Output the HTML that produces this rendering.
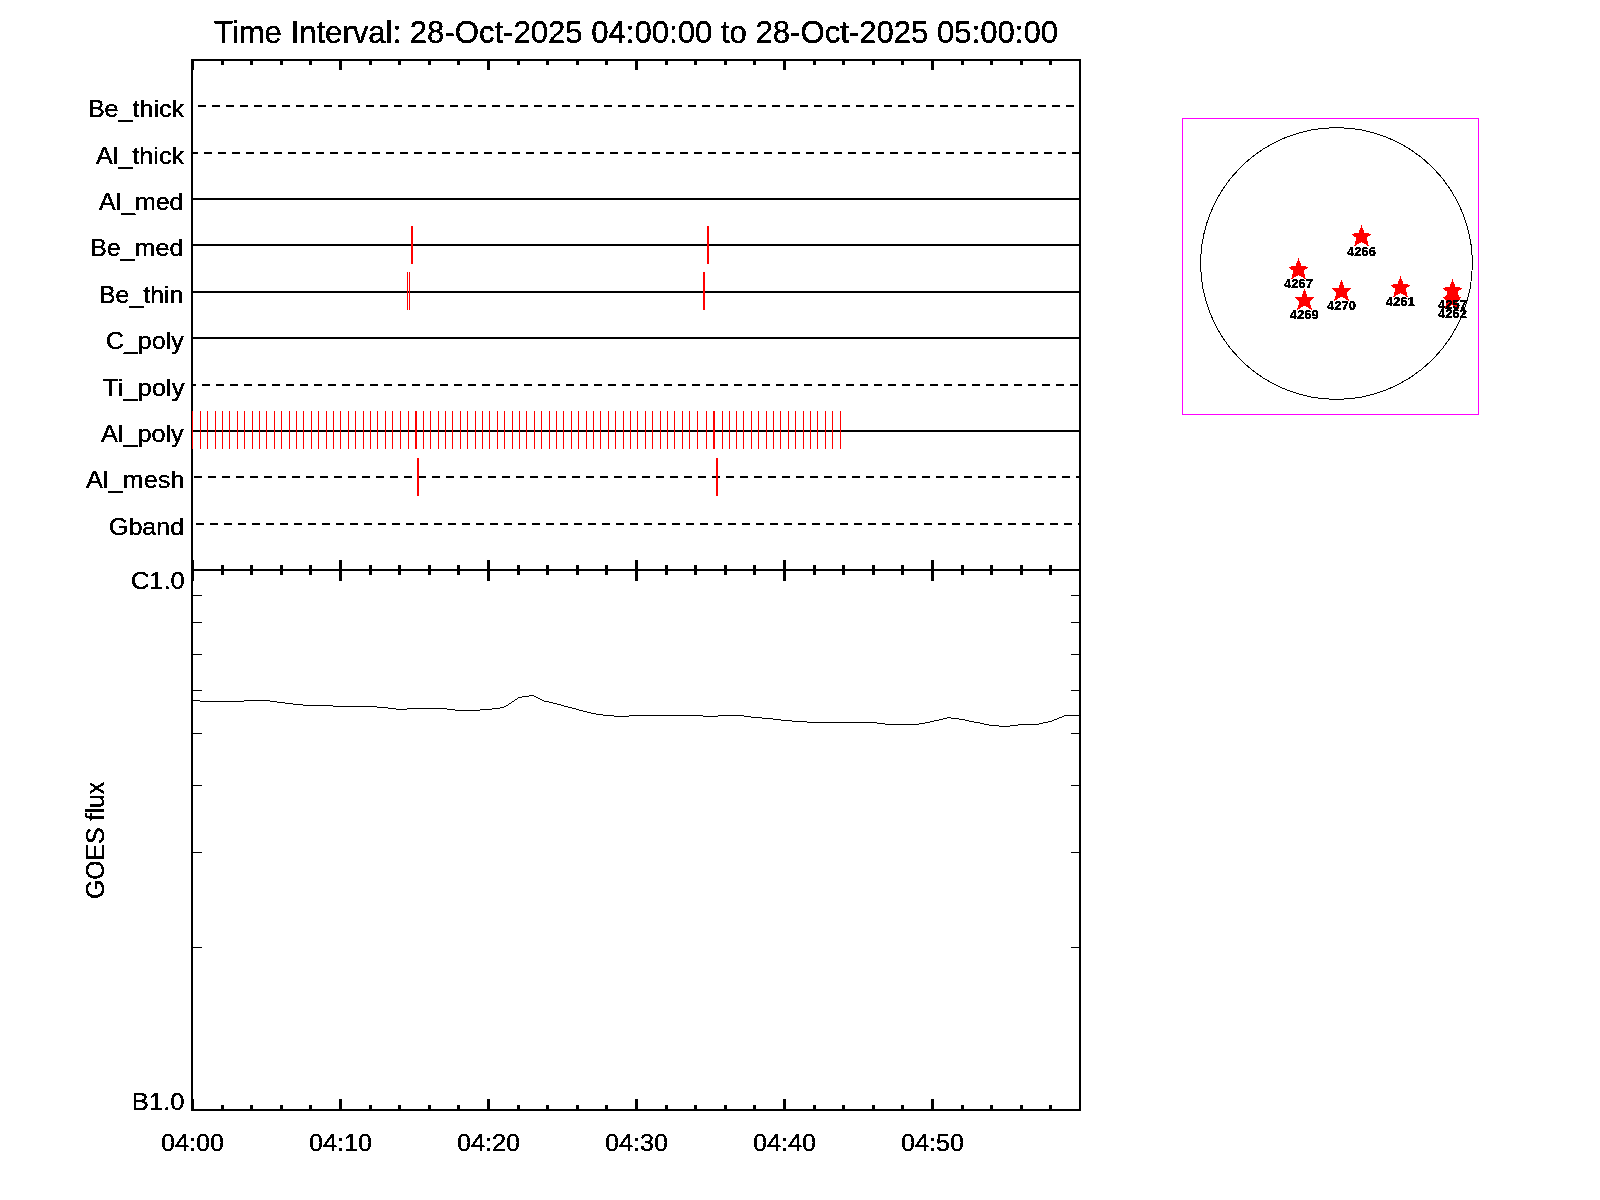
<!DOCTYPE html>
<html><head><meta charset="utf-8"><title>Time Interval</title>
<style>
html,body{margin:0;padding:0;background:#fff;width:1600px;height:1200px;overflow:hidden}
svg{display:block}
text{font-family:"Liberation Sans",sans-serif;fill:#000}
</style></head><body>
<svg width="1600" height="1200" viewBox="0 0 1600 1200">
<defs><filter id="crisp" x="0" y="0" width="1600" height="1200" filterUnits="userSpaceOnUse" color-interpolation-filters="sRGB"><feComponentTransfer><feFuncA type="discrete" tableValues="0 1 1 1"/></feComponentTransfer></filter></defs>
<rect x="0" y="0" width="1600" height="1200" fill="#fff"/>
<g shape-rendering="crispEdges">
<rect x="191" y="59" width="890" height="2" fill="#000"/>
<rect x="191" y="569" width="890" height="2" fill="#000"/>
<rect x="191" y="1109" width="890" height="2" fill="#000"/>
<rect x="191" y="59" width="2" height="1052" fill="#000"/>
<rect x="1079" y="59" width="2" height="1052" fill="#000"/>
<rect x="191" y="61" width="3" height="9" fill="#000"/>
<rect x="191" y="560" width="3" height="9" fill="#000"/>
<rect x="191" y="571" width="3" height="10" fill="#000"/>
<rect x="191" y="1099" width="3" height="10" fill="#000"/>
<rect x="221" y="61" width="3" height="4" fill="#000"/>
<rect x="221" y="565" width="3" height="4" fill="#000"/>
<rect x="221" y="571" width="3" height="4" fill="#000"/>
<rect x="221" y="1105" width="3" height="4" fill="#000"/>
<rect x="250" y="61" width="3" height="4" fill="#000"/>
<rect x="250" y="565" width="3" height="4" fill="#000"/>
<rect x="250" y="571" width="3" height="4" fill="#000"/>
<rect x="250" y="1105" width="3" height="4" fill="#000"/>
<rect x="280" y="61" width="3" height="4" fill="#000"/>
<rect x="280" y="565" width="3" height="4" fill="#000"/>
<rect x="280" y="571" width="3" height="4" fill="#000"/>
<rect x="280" y="1105" width="3" height="4" fill="#000"/>
<rect x="309" y="61" width="3" height="4" fill="#000"/>
<rect x="309" y="565" width="3" height="4" fill="#000"/>
<rect x="309" y="571" width="3" height="4" fill="#000"/>
<rect x="309" y="1105" width="3" height="4" fill="#000"/>
<rect x="339" y="61" width="3" height="9" fill="#000"/>
<rect x="339" y="560" width="3" height="9" fill="#000"/>
<rect x="339" y="571" width="3" height="10" fill="#000"/>
<rect x="339" y="1099" width="3" height="10" fill="#000"/>
<rect x="369" y="61" width="3" height="4" fill="#000"/>
<rect x="369" y="565" width="3" height="4" fill="#000"/>
<rect x="369" y="571" width="3" height="4" fill="#000"/>
<rect x="369" y="1105" width="3" height="4" fill="#000"/>
<rect x="398" y="61" width="3" height="4" fill="#000"/>
<rect x="398" y="565" width="3" height="4" fill="#000"/>
<rect x="398" y="571" width="3" height="4" fill="#000"/>
<rect x="398" y="1105" width="3" height="4" fill="#000"/>
<rect x="428" y="61" width="3" height="4" fill="#000"/>
<rect x="428" y="565" width="3" height="4" fill="#000"/>
<rect x="428" y="571" width="3" height="4" fill="#000"/>
<rect x="428" y="1105" width="3" height="4" fill="#000"/>
<rect x="457" y="61" width="3" height="4" fill="#000"/>
<rect x="457" y="565" width="3" height="4" fill="#000"/>
<rect x="457" y="571" width="3" height="4" fill="#000"/>
<rect x="457" y="1105" width="3" height="4" fill="#000"/>
<rect x="487" y="61" width="3" height="9" fill="#000"/>
<rect x="487" y="560" width="3" height="9" fill="#000"/>
<rect x="487" y="571" width="3" height="10" fill="#000"/>
<rect x="487" y="1099" width="3" height="10" fill="#000"/>
<rect x="517" y="61" width="3" height="4" fill="#000"/>
<rect x="517" y="565" width="3" height="4" fill="#000"/>
<rect x="517" y="571" width="3" height="4" fill="#000"/>
<rect x="517" y="1105" width="3" height="4" fill="#000"/>
<rect x="546" y="61" width="3" height="4" fill="#000"/>
<rect x="546" y="565" width="3" height="4" fill="#000"/>
<rect x="546" y="571" width="3" height="4" fill="#000"/>
<rect x="546" y="1105" width="3" height="4" fill="#000"/>
<rect x="576" y="61" width="3" height="4" fill="#000"/>
<rect x="576" y="565" width="3" height="4" fill="#000"/>
<rect x="576" y="571" width="3" height="4" fill="#000"/>
<rect x="576" y="1105" width="3" height="4" fill="#000"/>
<rect x="605" y="61" width="3" height="4" fill="#000"/>
<rect x="605" y="565" width="3" height="4" fill="#000"/>
<rect x="605" y="571" width="3" height="4" fill="#000"/>
<rect x="605" y="1105" width="3" height="4" fill="#000"/>
<rect x="635" y="61" width="3" height="9" fill="#000"/>
<rect x="635" y="560" width="3" height="9" fill="#000"/>
<rect x="635" y="571" width="3" height="10" fill="#000"/>
<rect x="635" y="1099" width="3" height="10" fill="#000"/>
<rect x="665" y="61" width="3" height="4" fill="#000"/>
<rect x="665" y="565" width="3" height="4" fill="#000"/>
<rect x="665" y="571" width="3" height="4" fill="#000"/>
<rect x="665" y="1105" width="3" height="4" fill="#000"/>
<rect x="694" y="61" width="3" height="4" fill="#000"/>
<rect x="694" y="565" width="3" height="4" fill="#000"/>
<rect x="694" y="571" width="3" height="4" fill="#000"/>
<rect x="694" y="1105" width="3" height="4" fill="#000"/>
<rect x="724" y="61" width="3" height="4" fill="#000"/>
<rect x="724" y="565" width="3" height="4" fill="#000"/>
<rect x="724" y="571" width="3" height="4" fill="#000"/>
<rect x="724" y="1105" width="3" height="4" fill="#000"/>
<rect x="753" y="61" width="3" height="4" fill="#000"/>
<rect x="753" y="565" width="3" height="4" fill="#000"/>
<rect x="753" y="571" width="3" height="4" fill="#000"/>
<rect x="753" y="1105" width="3" height="4" fill="#000"/>
<rect x="783" y="61" width="3" height="9" fill="#000"/>
<rect x="783" y="560" width="3" height="9" fill="#000"/>
<rect x="783" y="571" width="3" height="10" fill="#000"/>
<rect x="783" y="1099" width="3" height="10" fill="#000"/>
<rect x="813" y="61" width="3" height="4" fill="#000"/>
<rect x="813" y="565" width="3" height="4" fill="#000"/>
<rect x="813" y="571" width="3" height="4" fill="#000"/>
<rect x="813" y="1105" width="3" height="4" fill="#000"/>
<rect x="842" y="61" width="3" height="4" fill="#000"/>
<rect x="842" y="565" width="3" height="4" fill="#000"/>
<rect x="842" y="571" width="3" height="4" fill="#000"/>
<rect x="842" y="1105" width="3" height="4" fill="#000"/>
<rect x="872" y="61" width="3" height="4" fill="#000"/>
<rect x="872" y="565" width="3" height="4" fill="#000"/>
<rect x="872" y="571" width="3" height="4" fill="#000"/>
<rect x="872" y="1105" width="3" height="4" fill="#000"/>
<rect x="901" y="61" width="3" height="4" fill="#000"/>
<rect x="901" y="565" width="3" height="4" fill="#000"/>
<rect x="901" y="571" width="3" height="4" fill="#000"/>
<rect x="901" y="1105" width="3" height="4" fill="#000"/>
<rect x="931" y="61" width="3" height="9" fill="#000"/>
<rect x="931" y="560" width="3" height="9" fill="#000"/>
<rect x="931" y="571" width="3" height="10" fill="#000"/>
<rect x="931" y="1099" width="3" height="10" fill="#000"/>
<rect x="961" y="61" width="3" height="4" fill="#000"/>
<rect x="961" y="565" width="3" height="4" fill="#000"/>
<rect x="961" y="571" width="3" height="4" fill="#000"/>
<rect x="961" y="1105" width="3" height="4" fill="#000"/>
<rect x="990" y="61" width="3" height="4" fill="#000"/>
<rect x="990" y="565" width="3" height="4" fill="#000"/>
<rect x="990" y="571" width="3" height="4" fill="#000"/>
<rect x="990" y="1105" width="3" height="4" fill="#000"/>
<rect x="1020" y="61" width="3" height="4" fill="#000"/>
<rect x="1020" y="565" width="3" height="4" fill="#000"/>
<rect x="1020" y="571" width="3" height="4" fill="#000"/>
<rect x="1020" y="1105" width="3" height="4" fill="#000"/>
<rect x="1049" y="61" width="3" height="4" fill="#000"/>
<rect x="1049" y="565" width="3" height="4" fill="#000"/>
<rect x="1049" y="571" width="3" height="4" fill="#000"/>
<rect x="1049" y="1105" width="3" height="4" fill="#000"/>
<rect x="193" y="947" width="9" height="1" fill="#000"/>
<rect x="1071" y="947" width="8" height="1" fill="#000"/>
<rect x="193" y="852" width="9" height="1" fill="#000"/>
<rect x="1071" y="852" width="8" height="1" fill="#000"/>
<rect x="193" y="785" width="9" height="1" fill="#000"/>
<rect x="1071" y="785" width="8" height="1" fill="#000"/>
<rect x="193" y="733" width="9" height="1" fill="#000"/>
<rect x="1071" y="733" width="8" height="1" fill="#000"/>
<rect x="193" y="690" width="9" height="1" fill="#000"/>
<rect x="1071" y="690" width="8" height="1" fill="#000"/>
<rect x="193" y="654" width="9" height="1" fill="#000"/>
<rect x="1071" y="654" width="8" height="1" fill="#000"/>
<rect x="193" y="622" width="9" height="1" fill="#000"/>
<rect x="1071" y="622" width="8" height="1" fill="#000"/>
<rect x="193" y="595" width="9" height="1" fill="#000"/>
<rect x="1071" y="595" width="8" height="1" fill="#000"/>
<line x1="192" y1="106" x2="1079" y2="106" stroke="#000" stroke-width="2" stroke-dasharray="8 6" stroke-dashoffset="8"/>
<line x1="192" y1="153" x2="1079" y2="153" stroke="#000" stroke-width="2" stroke-dasharray="8 6" stroke-dashoffset="2"/>
<rect x="193" y="198" width="886" height="2" fill="#000"/>
<rect x="193" y="244" width="886" height="2" fill="#000"/>
<rect x="193" y="291" width="886" height="2" fill="#000"/>
<rect x="193" y="337" width="886" height="2" fill="#000"/>
<line x1="192" y1="385" x2="1079" y2="385" stroke="#000" stroke-width="2" stroke-dasharray="8 6" stroke-dashoffset="4"/>
<rect x="193" y="430" width="886" height="2" fill="#000"/>
<line x1="192" y1="477" x2="1079" y2="477" stroke="#000" stroke-width="2" stroke-dasharray="8 6" stroke-dashoffset="12"/>
<line x1="192" y1="524" x2="1079" y2="524" stroke="#000" stroke-width="2" stroke-dasharray="8 6" stroke-dashoffset="10"/>
<rect x="411" y="226" width="2" height="38" fill="#ff0000"/>
<rect x="707" y="226" width="2" height="38" fill="#ff0000"/>
<rect x="407" y="272" width="1" height="38" fill="#ff0000"/>
<rect x="409" y="272" width="1" height="38" fill="#ff0000"/>
<rect x="703" y="272" width="2" height="38" fill="#ff0000"/>
<rect x="192" y="411" width="1" height="38" fill="#ff0000"/>
<rect x="200" y="411" width="1" height="38" fill="#ff0000"/>
<rect x="207" y="411" width="1" height="38" fill="#ff0000"/>
<rect x="215" y="411" width="1" height="38" fill="#ff0000"/>
<rect x="222" y="411" width="1" height="38" fill="#ff0000"/>
<rect x="229" y="411" width="1" height="38" fill="#ff0000"/>
<rect x="237" y="411" width="1" height="38" fill="#ff0000"/>
<rect x="244" y="411" width="1" height="38" fill="#ff0000"/>
<rect x="252" y="411" width="1" height="38" fill="#ff0000"/>
<rect x="259" y="411" width="1" height="38" fill="#ff0000"/>
<rect x="266" y="411" width="1" height="38" fill="#ff0000"/>
<rect x="274" y="411" width="1" height="38" fill="#ff0000"/>
<rect x="281" y="411" width="1" height="38" fill="#ff0000"/>
<rect x="289" y="411" width="1" height="38" fill="#ff0000"/>
<rect x="296" y="411" width="1" height="38" fill="#ff0000"/>
<rect x="303" y="411" width="1" height="38" fill="#ff0000"/>
<rect x="311" y="411" width="1" height="38" fill="#ff0000"/>
<rect x="318" y="411" width="1" height="38" fill="#ff0000"/>
<rect x="326" y="411" width="1" height="38" fill="#ff0000"/>
<rect x="333" y="411" width="1" height="38" fill="#ff0000"/>
<rect x="340" y="411" width="1" height="38" fill="#ff0000"/>
<rect x="348" y="411" width="1" height="38" fill="#ff0000"/>
<rect x="355" y="411" width="1" height="38" fill="#ff0000"/>
<rect x="363" y="411" width="1" height="38" fill="#ff0000"/>
<rect x="370" y="411" width="1" height="38" fill="#ff0000"/>
<rect x="377" y="411" width="1" height="38" fill="#ff0000"/>
<rect x="385" y="411" width="1" height="38" fill="#ff0000"/>
<rect x="392" y="411" width="1" height="38" fill="#ff0000"/>
<rect x="400" y="411" width="1" height="38" fill="#ff0000"/>
<rect x="408" y="411" width="1" height="38" fill="#ff0000"/>
<rect x="423" y="411" width="1" height="38" fill="#ff0000"/>
<rect x="430" y="411" width="1" height="38" fill="#ff0000"/>
<rect x="438" y="411" width="1" height="38" fill="#ff0000"/>
<rect x="445" y="411" width="1" height="38" fill="#ff0000"/>
<rect x="452" y="411" width="1" height="38" fill="#ff0000"/>
<rect x="460" y="411" width="1" height="38" fill="#ff0000"/>
<rect x="467" y="411" width="1" height="38" fill="#ff0000"/>
<rect x="475" y="411" width="1" height="38" fill="#ff0000"/>
<rect x="482" y="411" width="1" height="38" fill="#ff0000"/>
<rect x="489" y="411" width="1" height="38" fill="#ff0000"/>
<rect x="497" y="411" width="1" height="38" fill="#ff0000"/>
<rect x="504" y="411" width="1" height="38" fill="#ff0000"/>
<rect x="512" y="411" width="1" height="38" fill="#ff0000"/>
<rect x="519" y="411" width="1" height="38" fill="#ff0000"/>
<rect x="526" y="411" width="1" height="38" fill="#ff0000"/>
<rect x="534" y="411" width="1" height="38" fill="#ff0000"/>
<rect x="541" y="411" width="1" height="38" fill="#ff0000"/>
<rect x="549" y="411" width="1" height="38" fill="#ff0000"/>
<rect x="556" y="411" width="1" height="38" fill="#ff0000"/>
<rect x="563" y="411" width="1" height="38" fill="#ff0000"/>
<rect x="571" y="411" width="1" height="38" fill="#ff0000"/>
<rect x="578" y="411" width="1" height="38" fill="#ff0000"/>
<rect x="586" y="411" width="1" height="38" fill="#ff0000"/>
<rect x="593" y="411" width="1" height="38" fill="#ff0000"/>
<rect x="600" y="411" width="1" height="38" fill="#ff0000"/>
<rect x="608" y="411" width="1" height="38" fill="#ff0000"/>
<rect x="615" y="411" width="1" height="38" fill="#ff0000"/>
<rect x="623" y="411" width="1" height="38" fill="#ff0000"/>
<rect x="630" y="411" width="1" height="38" fill="#ff0000"/>
<rect x="637" y="411" width="1" height="38" fill="#ff0000"/>
<rect x="645" y="411" width="1" height="38" fill="#ff0000"/>
<rect x="652" y="411" width="1" height="38" fill="#ff0000"/>
<rect x="660" y="411" width="1" height="38" fill="#ff0000"/>
<rect x="667" y="411" width="1" height="38" fill="#ff0000"/>
<rect x="674" y="411" width="1" height="38" fill="#ff0000"/>
<rect x="682" y="411" width="1" height="38" fill="#ff0000"/>
<rect x="689" y="411" width="1" height="38" fill="#ff0000"/>
<rect x="697" y="411" width="1" height="38" fill="#ff0000"/>
<rect x="706" y="411" width="1" height="38" fill="#ff0000"/>
<rect x="722" y="411" width="1" height="38" fill="#ff0000"/>
<rect x="729" y="411" width="1" height="38" fill="#ff0000"/>
<rect x="736" y="411" width="1" height="38" fill="#ff0000"/>
<rect x="743" y="411" width="1" height="38" fill="#ff0000"/>
<rect x="751" y="411" width="1" height="38" fill="#ff0000"/>
<rect x="758" y="411" width="1" height="38" fill="#ff0000"/>
<rect x="766" y="411" width="1" height="38" fill="#ff0000"/>
<rect x="773" y="411" width="1" height="38" fill="#ff0000"/>
<rect x="780" y="411" width="1" height="38" fill="#ff0000"/>
<rect x="788" y="411" width="1" height="38" fill="#ff0000"/>
<rect x="795" y="411" width="1" height="38" fill="#ff0000"/>
<rect x="803" y="411" width="1" height="38" fill="#ff0000"/>
<rect x="810" y="411" width="1" height="38" fill="#ff0000"/>
<rect x="817" y="411" width="1" height="38" fill="#ff0000"/>
<rect x="825" y="411" width="1" height="38" fill="#ff0000"/>
<rect x="832" y="411" width="1" height="38" fill="#ff0000"/>
<rect x="840" y="411" width="1" height="38" fill="#ff0000"/>
<rect x="415" y="411" width="2" height="38" fill="#ff0000"/>
<rect x="713" y="411" width="2" height="38" fill="#ff0000"/>
<rect x="417" y="458" width="2" height="38" fill="#ff0000"/>
<rect x="716" y="458" width="2" height="38" fill="#ff0000"/>
<path fill="#000" d="M193 700h7v1h-7z M200 701h44v1h-44z M244 700h26v1h-26z M270 701h7v1h-7z M277 702h8v1h-8z M285 703h8v1h-8z M293 704h10v1h-10z M303 705h30v1h-30z M333 706h44v1h-44z M377 707h11v1h-11z M388 708h8v1h-8z M396 709h11v1h-11z M407 708h40v1h-40z M447 709h8v1h-8z M455 710h25v1h-25z M480 709h12v1h-12z M492 708h8v1h-8z M500 707h4v1h-4z M504 706h2v1h-2z M506 705h2v1h-2z M508 704h1v1h-1z M509 703h2v1h-2z M511 702h1v1h-1z M512 701h2v1h-2z M514 700h1v1h-1z M515 699h2v1h-2z M517 698h1v1h-1z M518 697h4v1h-4z M522 696h7v1h-7z M529 695h5v1h-5z M534 696h2v1h-2z M536 697h2v1h-2z M538 698h2v1h-2z M540 699h2v1h-2z M542 700h2v1h-2z M544 701h3v1h-3z M547 701h2v1h-2z M549 702h4v1h-4z M553 703h4v1h-4z M557 704h4v1h-4z M561 705h3v1h-3z M564 706h4v1h-4z M568 707h4v1h-4z M572 708h4v1h-4z M576 709h3v1h-3z M579 710h4v1h-4z M583 711h4v1h-4z M587 712h4v1h-4z M591 713h5v1h-5z M596 714h7v1h-7z M603 715h11v1h-11z M614 716h15v1h-15z M629 715h74v1h-74z M703 716h15v1h-15z M718 715h26v1h-26z M744 716h7v1h-7z M751 717h11v1h-11z M762 718h11v1h-11z M773 719h8v1h-8z M781 720h11v1h-11z M792 721h15v1h-15z M807 722h70v1h-70z M877 723h8v1h-8z M885 724h34v1h-34z M919 723h6v1h-6z M925 722h5v1h-5z M930 721h4v1h-4z M934 720h5v1h-5z M939 719h4v1h-4z M943 718h4v1h-4z M947 717h4v1h-4z M951 718h8v1h-8z M959 719h6v1h-6z M965 720h4v1h-4z M969 721h5v1h-5z M974 722h6v1h-6z M980 723h4v1h-4z M984 724h5v1h-5z M989 725h10v1h-10z M999 726h11v1h-11z M1010 725h8v1h-8z M1018 724h21v1h-21z M1039 723h4v1h-4z M1043 722h5v1h-5z M1048 721h4v1h-4z M1052 720h2v1h-2z M1054 719h3v1h-3z M1057 718h2v1h-2z M1059 717h3v1h-3z M1062 716h2v1h-2z M1064 715h15v1h-15z"/>
</g>
<g shape-rendering="crispEdges">
<rect x="1182.5" y="118.5" width="296" height="296" fill="none" stroke="#ff00ff" stroke-width="1"/>
<circle cx="1336.5" cy="263.5" r="135.85" fill="none" stroke="#000" stroke-width="1"/>
<polygon points="1361.50,225.00 1364.60,233.20 1371.50,233.70 1366.60,238.30 1369.00,246.60 1361.50,242.00 1354.00,246.60 1356.40,238.30 1351.50,233.70 1358.40,233.20" fill="#ff0000"/>
<polygon points="1298.50,258.00 1301.60,266.20 1308.50,266.70 1303.60,271.30 1306.00,279.60 1298.50,275.00 1291.00,279.60 1293.40,271.30 1288.50,266.70 1295.40,266.20" fill="#ff0000"/>
<polygon points="1304.50,288.60 1307.60,296.80 1314.50,297.30 1309.60,301.90 1312.00,310.20 1304.50,305.60 1297.00,310.20 1299.40,301.90 1294.50,297.30 1301.40,296.80" fill="#ff0000"/>
<polygon points="1341.50,279.60 1344.60,287.80 1351.50,288.30 1346.60,292.90 1349.00,301.20 1341.50,296.60 1334.00,301.20 1336.40,292.90 1331.50,288.30 1338.40,287.80" fill="#ff0000"/>
<polygon points="1400.50,276.00 1403.60,284.20 1410.50,284.70 1405.60,289.30 1408.00,297.60 1400.50,293.00 1393.00,297.60 1395.40,289.30 1390.50,284.70 1397.40,284.20" fill="#ff0000"/>
<polygon points="1452.50,279.00 1455.60,287.20 1462.50,287.70 1457.60,292.30 1460.00,300.60 1452.50,296.00 1445.00,300.60 1447.40,292.30 1442.50,287.70 1449.40,287.20" fill="#ff0000"/>
<polygon points="1452.00,288.00 1455.10,296.20 1462.00,296.70 1457.10,301.30 1459.50,309.60 1452.00,305.00 1444.50,309.60 1446.90,301.30 1442.00,296.70 1448.90,296.20" fill="#ff0000"/>
</g>
<g filter="url(#crisp)">
<text x="87.91" y="117" font-size="24" textLength="96.14" lengthAdjust="spacingAndGlyphs">Be_thick</text>
<text x="96.00" y="164" font-size="24" textLength="88.03" lengthAdjust="spacingAndGlyphs">Al_thick</text>
<text x="99.00" y="210" font-size="24" textLength="84.43" lengthAdjust="spacingAndGlyphs">Al_med</text>
<text x="89.91" y="256" font-size="24" textLength="93.55" lengthAdjust="spacingAndGlyphs">Be_med</text>
<text x="98.92" y="303" font-size="24" textLength="84.52" lengthAdjust="spacingAndGlyphs">Be_thin</text>
<text x="105.96" y="349" font-size="24" textLength="77.72" lengthAdjust="spacingAndGlyphs">C_poly</text>
<text x="103.00" y="396" font-size="24" textLength="81.48" lengthAdjust="spacingAndGlyphs">Ti_poly</text>
<text x="101.00" y="442" font-size="24" textLength="82.69" lengthAdjust="spacingAndGlyphs">Al_poly</text>
<text x="86.00" y="488" font-size="24" textLength="98.45" lengthAdjust="spacingAndGlyphs">Al_mesh</text>
<text x="108.96" y="535" font-size="24" textLength="75.13" lengthAdjust="spacingAndGlyphs">Gband</text>
<text x="130.94" y="589" font-size="24" textLength="53.86" lengthAdjust="spacingAndGlyphs">C1.0</text>
<text x="131.87" y="1110" font-size="24" textLength="52.60" lengthAdjust="spacingAndGlyphs">B1.0</text>
<text x="160.95" y="1151" font-size="24" textLength="63.15" lengthAdjust="spacingAndGlyphs">04:00</text>
<text x="308.95" y="1151" font-size="24" textLength="63.15" lengthAdjust="spacingAndGlyphs">04:10</text>
<text x="456.95" y="1151" font-size="24" textLength="63.15" lengthAdjust="spacingAndGlyphs">04:20</text>
<text x="604.95" y="1151" font-size="24" textLength="63.15" lengthAdjust="spacingAndGlyphs">04:30</text>
<text x="752.95" y="1151" font-size="24" textLength="63.15" lengthAdjust="spacingAndGlyphs">04:40</text>
<text x="900.95" y="1151" font-size="24" textLength="63.15" lengthAdjust="spacingAndGlyphs">04:50</text>
<text transform="translate(103.8 898.99) rotate(-90)" font-size="25" textLength="117.10" lengthAdjust="spacingAndGlyphs">GOES flux</text>
<text x="213.98" y="43" font-size="30.5" textLength="844.07" lengthAdjust="spacingAndGlyphs">Time Interval: 28-Oct-2025 04:00:00 to 28-Oct-2025 05:00:00</text>
<text x="1361.5" y="256" text-anchor="middle" font-size="13" font-weight="bold">4266</text>
<text x="1298.5" y="288" text-anchor="middle" font-size="13" font-weight="bold">4267</text>
<text x="1304.2" y="319" text-anchor="middle" font-size="13" font-weight="bold">4269</text>
<text x="1341.5" y="310" text-anchor="middle" font-size="13" font-weight="bold">4270</text>
<text x="1400.2" y="306" text-anchor="middle" font-size="13" font-weight="bold">4261</text>
<text x="1452.5" y="309" text-anchor="middle" font-size="13" font-weight="bold">4257</text>
<text x="1452.5" y="318" text-anchor="middle" font-size="13" font-weight="bold">4262</text>
</g>
</svg>
</body></html>
